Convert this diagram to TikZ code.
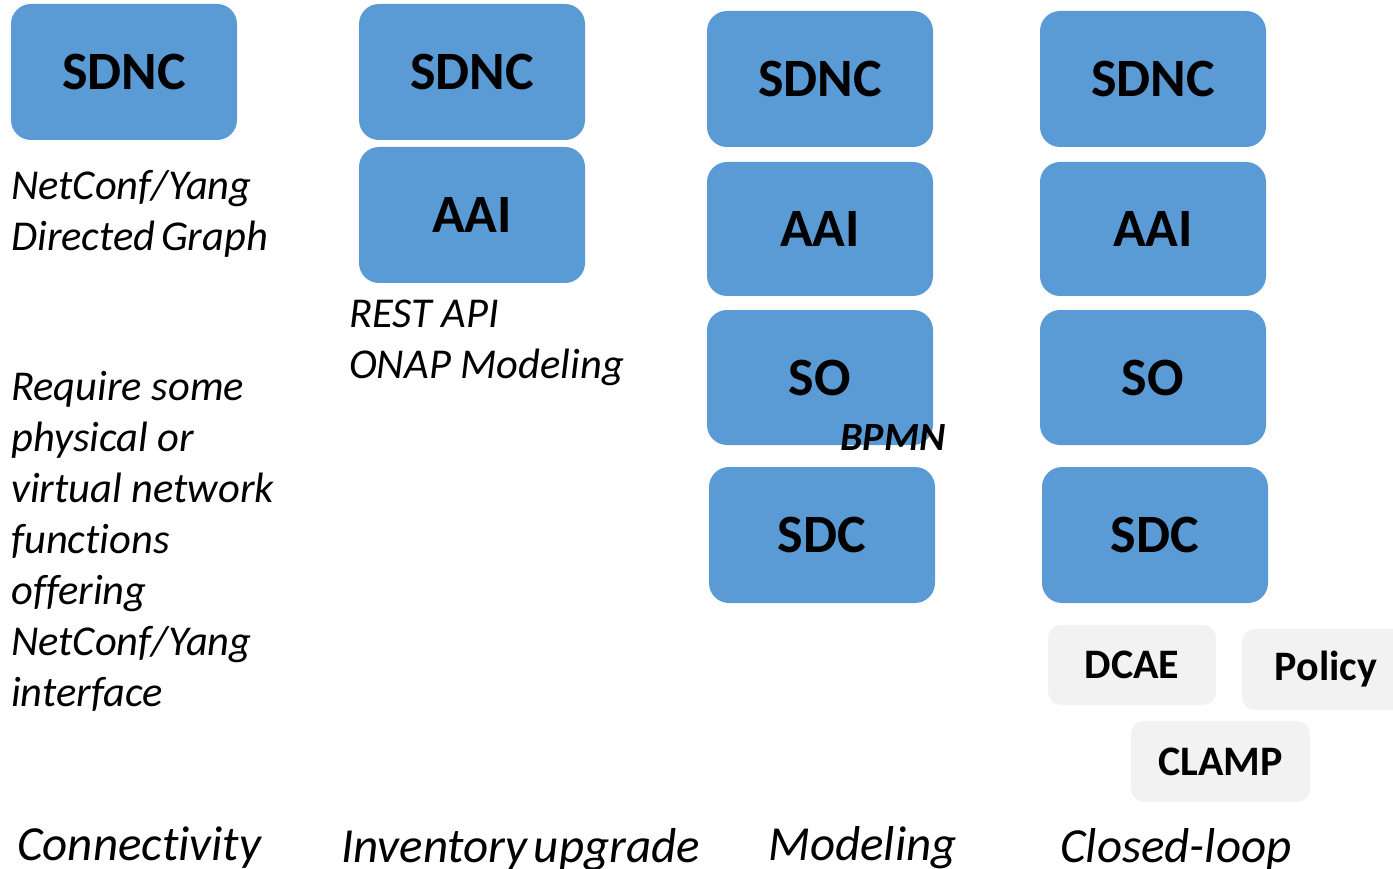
\documentclass[tikz,border=0pt]{standalone}
\usepackage{fontspec}
\setmainfont[Ligatures=NoCommon]{Carlito}
\definecolor{boxblue}{HTML}{5B9BD5}
\definecolor{boxgrey}{HTML}{F2F2F2}
\tikzset{
  bluebox/.style={fill=boxblue, draw=none, rounded corners=20pt, minimum width=226pt, minimum height=136pt, inner sep=0pt, font=\fontsize{54}{60}\selectfont\bfseries},
  greybox/.style={fill=boxgrey, draw=none, rounded corners=13pt, inner sep=0pt, font=\fontsize{42}{48}\selectfont\bfseries},
  note/.style={anchor=base west, inner sep=0pt, font=\fontsize{42.5}{51}\selectfont\itshape},
  caption/.style={anchor=base west, inner sep=0pt, font=\fontsize{49}{60}\selectfont\itshape},
}
\begin{document}
\begin{tikzpicture}[x=1pt,y=-1pt]
\useasboundingbox (0,0) rectangle (1393,869);
% column 1
\node[bluebox] (sdnc1) at (124,72) {SDNC};
\node[note] (n1a) at (11,200) {NetConf/Yang};
\node[note] (n1b) at (11,251) {Directed\hspace{-4pt} Graph};
\node[note] (r1) at (11,400) {Require some};
\node[note] (r2) at (11,451) {physical or};
\node[note] (r3) at (11,502) {virtual network};
\node[note] (r4) at (11,553) {functions};
\node[note] (r5) at (11,604) {offering};
\node[note] (r6) at (11,655) {NetConf/Yang};
\node[note] (r7) at (11,706) {interface};
% column 2
\node[bluebox] (sdnc2) at (472,72) {SDNC};
\node[bluebox] (aai2) at (472,215) {AAI};
\node[note] (rest) at (349,327) {REST API};
\node[note] (onap) at (349,378) {ONAP Modeling};
% column 3
\node[bluebox] (sdnc3) at (820,79) {SDNC};
\node[bluebox, minimum height=134pt] (aai3) at (820,229) {AAI};
\node[bluebox, minimum height=135pt] (so3) at (820,377.5) {SO};
\node[bluebox] (sdc3) at (822,535) {SDC};
\node[anchor=center, inner sep=0pt, font=\fontsize{40}{48}\selectfont\bfseries\itshape] (bpmn) at (893,438) {BPMN};
% column 4
\node[bluebox] (sdnc4) at (1153,79) {SDNC};
\node[bluebox, minimum height=134pt] (aai4) at (1153,229) {AAI};
\node[bluebox, minimum height=135pt] (so4) at (1153,377.5) {SO};
\node[bluebox] (sdc4) at (1155,535) {SDC};
\node[greybox, minimum width=168pt, minimum height=80pt] (dcae) at (1132,665) {DCAE};
\node[greybox, minimum width=168pt, minimum height=81pt] (policy) at (1326,669.5) {Policy};
\node[greybox, minimum width=179pt, minimum height=81pt] (clamp) at (1220.5,761.5) {CLAMP};
% captions
\node[caption] (c1) at (17,860) {Connectivity};
\node[caption] (c2) at (341,862) {Inventory\hspace{-5pt} upgrade};
\node[caption] (c3) at (768,860) {Modeling};
\node[caption] (c4) at (1060,862) {Closed-loop};
\end{tikzpicture}
\end{document}
